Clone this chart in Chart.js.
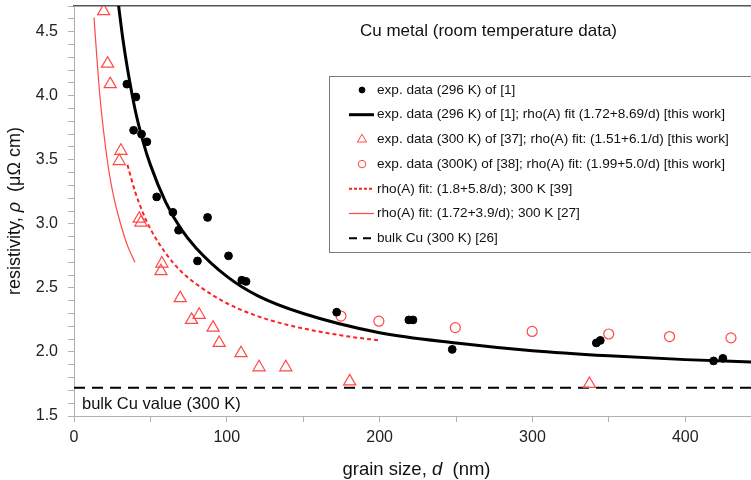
<!DOCTYPE html>
<html>
<head>
<meta charset="utf-8">
<script src="https://cdn.jsdelivr.net/npm/chart.js@4/dist/chart.umd.min.js"></script>
<style>
  html, body { margin: 0; padding: 0; background: #fff; overflow: hidden; }
  canvas { display: block; }
</style>
</head>
<body>
<canvas id="rhoChart" width="751" height="480"></canvas>
<script>
// ---------- Data ---------------------------------- //
// exp. data (296 K) of [1]
const dotD   = [34.6, 40.5, 39.0, 44.2, 47.7, 54.1, 64.7, 87.4, 68.4, 80.8, 101.1, 109.8, 112.6, 171.9, 219.1, 221.8, 247.5, 341.8, 344.4, 418.5, 424.6];
const dotRho = [4.09, 3.99, 3.73, 3.70, 3.64, 3.21, 3.09, 3.05, 2.95, 2.71, 2.75, 2.56, 2.55, 2.31, 2.25, 2.25, 2.02, 2.07, 2.09, 1.93, 1.95];

// fit curve through [1] (black)
const fitD   = [29, 32, 35, 40, 45, 50, 60, 70, 80, 100, 120, 150, 200, 250, 300, 350, 400, 445];
const fitRho = [4.72, 4.44, 4.21, 3.89, 3.65, 3.46, 3.17, 2.96, 2.81, 2.59, 2.44, 2.30, 2.15, 2.07, 2.01, 1.97, 1.94, 1.92];

// exp. data (300 K) of [37]
const triD   = [19.4, 22.0, 23.7, 30.7, 29.6, 42.7, 43.8, 57.5, 56.9, 69.5, 76.9, 81.9, 91.0, 95.0, 109.3, 121.1, 138.6, 180.4, 337.3];
const triRho = [4.66, 4.25, 4.09, 3.57, 3.49, 3.04, 3.01, 2.69, 2.63, 2.42, 2.25, 2.29, 2.19, 2.07, 1.99, 1.88, 1.88, 1.77, 1.75];

// exp. data (300K) of [38]
const ringD   = [174.7, 199.5, 249.5, 299.8, 349.9, 389.7, 429.9];
const ringRho = [2.28, 2.24, 2.19, 2.16, 2.14, 2.12, 2.11];

// rho(A) fit [39] (red dashed)
const fit39D   = [35, 40, 45, 50, 60, 70, 80, 100, 120, 140, 160, 180, 200];
const fit39Rho = [3.46, 3.25, 3.09, 2.96, 2.77, 2.63, 2.53, 2.38, 2.28, 2.21, 2.16, 2.12, 2.09];

// rho(A) fit [27] (red thin)
const fit27D   = [13.1, 15, 17, 20, 23, 26, 30, 35, 39.9];
const fit27Rho = [4.61, 4.29, 3.99, 3.66, 3.40, 3.21, 3.02, 2.83, 2.70];

// bulk Cu (300 K)
const bulkD   = [0, 450];
const bulkRho = [1.72, 1.72];

const legendLabels = [
  'exp. data (296 K) of [1]',
  'exp. data (296 K) of [1]; rho(A) fit (1.72+8.69/d) [this work]',
  'exp. data (300 K) of [37]; rho(A) fit: (1.51+6.1/d) [this work]',
  'exp. data (300K) of [38]; rho(A) fit: (1.99+5.0/d) [this work]',
  'rho(A) fit: (1.8+5.8/d); 300 K [39]',
  'rho(A) fit: (1.72+3.9/d); 300 K [27]',
  'bulk Cu (300 K) [26]'
];

const xTickLabels = [0, 100, 200, 300, 400];
const yTickLabels = [1.5, 2.0, 2.5, 3.0, 3.5, 4.0, 4.5];

// axis titles as [text, italic] runs
const xTitleRuns = [['grain size, ', false], ['d', true], ['  (nm)', false]];
const yTitleRuns = [['resistivity, ', false], ['ρ', true], ['  (μΩ cm)', false]];

const FONT = '"Liberation Sans", Arial, sans-serif';
const RED = '#ff4848';

const pts = (xs, ys) => xs.map((x, i) => ({ x: x, y: ys[i] }));

// draws mixed regular/italic runs centred on (cx, cy), optionally rotated
function drawRuns(ctx, runs, size, cx, cy, angle) {
  const fontOf = (it) => (it ? 'italic ' : '') + size + 'px ' + FONT;
  let total = 0;
  runs.forEach(([t, it]) => { ctx.font = fontOf(it); total += ctx.measureText(t).width; });
  ctx.save();
  ctx.translate(cx, cy);
  ctx.rotate(angle || 0);
  ctx.textAlign = 'left';
  ctx.textBaseline = 'middle';
  let x = -total / 2;
  runs.forEach(([t, it]) => {
    ctx.font = fontOf(it);
    ctx.fillText(t, x, 0);
    x += ctx.measureText(t).width;
  });
  ctx.restore();
}

// ---------- legend + text notes drawn inside the plot ------------- //
const notesPlugin = {
  id: 'notes',
  afterDatasetsDraw(chart) {
    const ctx = chart.ctx;
    const area = chart.chartArea;
    ctx.save();

    // annotations
    ctx.fillStyle = '#111';
    ctx.textBaseline = 'middle';
    ctx.textAlign = 'right';
    ctx.font = '17px ' + FONT;
    ctx.fillText('Cu metal (room temperature data)', 617, 31);
    ctx.textAlign = 'left';
    ctx.font = '16.5px ' + FONT;
    ctx.fillText('bulk Cu value (300 K)', area.left + 8, 404);

    // axis titles
    drawRuns(ctx, xTitleRuns, 18.5, (area.left + area.right) / 2 + 4, 470, 0);
    drawRuns(ctx, yTitleRuns, 18, 15, 211, -Math.PI / 2);

    // legend box (runs off the right edge like the original)
    const bx = 329, by = 76, bh = 176;
    ctx.fillStyle = '#fff';
    ctx.fillRect(bx, by, area.right - bx + 10, bh);
    ctx.strokeStyle = '#7a7a7a';
    ctx.lineWidth = 1;
    ctx.strokeRect(bx + 0.5, by + 0.5, area.right - bx + 10, bh);

    const rowY0 = 90, rowStep = 24.7;
    const sx0 = 349, sx1 = 374, mx = 362, tx = 377;
    chart.data.datasets.forEach((ds, i) => {
      const y = rowY0 + i * rowStep;
      if (ds.showLine) {
        ctx.save();
        ctx.strokeStyle = ds.borderColor;
        ctx.lineWidth = ds.borderWidth;
        ctx.setLineDash(ds.legendDash || []);
        ctx.beginPath();
        ctx.moveTo(sx0, y);
        ctx.lineTo(sx1, y);
        ctx.stroke();
        ctx.restore();
      } else {
        ctx.save();
        ctx.fillStyle = ds.pointBackgroundColor;
        ctx.strokeStyle = ds.pointBorderColor;
        Chart.helpers.drawPoint(ctx, {
          pointStyle: ds.pointStyle,
          radius: ds.pointRadius * 0.75,
          rotation: 0,
          borderWidth: ds.pointBorderWidth
        }, mx, y);
        ctx.restore();
      }
      ctx.fillStyle = '#111';
      ctx.font = '13.6px ' + FONT;
      ctx.textBaseline = 'middle';
      ctx.fillText(ds.label, tx, y);
    });
    ctx.restore();
  }
};

// ---------- Resistivity Chart Start ------------- //
new Chart(document.getElementById('rhoChart'), {
  type: 'scatter',
  data: {
    datasets: [{
      label: legendLabels[0],
      data: pts(dotD, dotRho),
      showLine: false,
      pointStyle: 'circle',
      pointRadius: 3.9,
      pointBackgroundColor: '#000',
      pointBorderColor: '#000',
      pointBorderWidth: 1
    }, {
      label: legendLabels[1],
      data: pts(fitD, fitRho),
      showLine: true,
      borderColor: '#000',
      borderWidth: 3,
      pointRadius: 0,
      cubicInterpolationMode: 'monotone'
    }, {
      label: legendLabels[2],
      data: pts(triD, triRho),
      showLine: false,
      pointStyle: 'triangle',
      pointRadius: 7,
      pointBackgroundColor: 'rgba(255,255,255,0)',
      pointBorderColor: RED,
      pointBorderWidth: 1.2
    }, {
      label: legendLabels[3],
      data: pts(ringD, ringRho),
      showLine: false,
      pointStyle: 'circle',
      pointRadius: 5,
      pointBackgroundColor: 'rgba(255,255,255,0)',
      pointBorderColor: RED,
      pointBorderWidth: 1.2
    }, {
      label: legendLabels[4],
      data: pts(fit39D, fit39Rho),
      showLine: true,
      borderColor: '#ff2020',
      borderWidth: 2,
      borderDash: [4, 3],
      legendDash: [3, 2],
      pointRadius: 0,
      cubicInterpolationMode: 'monotone'
    }, {
      label: legendLabels[5],
      data: pts(fit27D, fit27Rho),
      showLine: true,
      borderColor: RED,
      borderWidth: 1.2,
      pointRadius: 0,
      cubicInterpolationMode: 'monotone'
    }, {
      label: legendLabels[6],
      data: pts(bulkD, bulkRho),
      showLine: true,
      borderColor: '#000',
      borderWidth: 2,
      borderDash: [11, 7],
      legendDash: [8, 6],
      pointRadius: 0
    }]
  },
  options: {
    responsive: false,
    animation: false,
    layout: { padding: 0, autoPadding: false },
    plugins: {
      legend: { display: false },
      tooltip: { enabled: false }
    },
    scales: {
      x: {
        type: 'linear',
        position: 'bottom',
        min: 0,
        max: 443,
        grid: { drawOnChartArea: false, drawTicks: true, tickLength: 6, color: '#b0b0b0' },
        border: { color: '#b0b0b0', width: 1 },
        ticks: {
          stepSize: 50,
          autoSkip: false,
          includeBounds: false,
          maxRotation: 0,
          padding: 6,
          color: '#222',
          font: { family: FONT, size: 16 },
          callback: (v) => xTickLabels.includes(v) ? String(v) : ''
        },
        title: { display: false },
        afterFit: (scale) => {
          scale.height = 64;
          scale.paddingLeft = 0;
          scale.paddingRight = 0;
        }
      },
      x2: {
        type: 'linear',
        position: 'top',
        min: 0,
        max: 443,
        grid: { display: false },
        border: { color: '#555', width: 1.5 },
        ticks: { display: false },
        afterFit: (scale) => {
          scale.height = 6;
          scale.paddingLeft = 0;
          scale.paddingRight = 0;
        }
      },
      y: {
        type: 'linear',
        position: 'left',
        min: 1.5,
        max: 4.7,
        grid: { drawOnChartArea: false, drawTicks: true, tickLength: 6, color: '#b0b0b0' },
        border: { color: '#b0b0b0', width: 1 },
        ticks: {
          stepSize: 0.1,
          autoSkip: false,
          includeBounds: false,
          padding: 10,
          color: '#222',
          font: { family: FONT, size: 16 },
          callback: (v) => {
            const r = Math.round(v * 10) / 10;
            return yTickLabels.some(t => Math.abs(t - r) < 1e-6) ? r.toFixed(1) : '';
          }
        },
        title: { display: false },
        afterFit: (scale) => {
          scale.width = 74;
          scale.paddingTop = 0;
          scale.paddingBottom = 0;
        }
      }
    }
  },
  plugins: [notesPlugin]
});
// ---------- Resistivity Chart End ------------- //
</script>
</body>
</html>
